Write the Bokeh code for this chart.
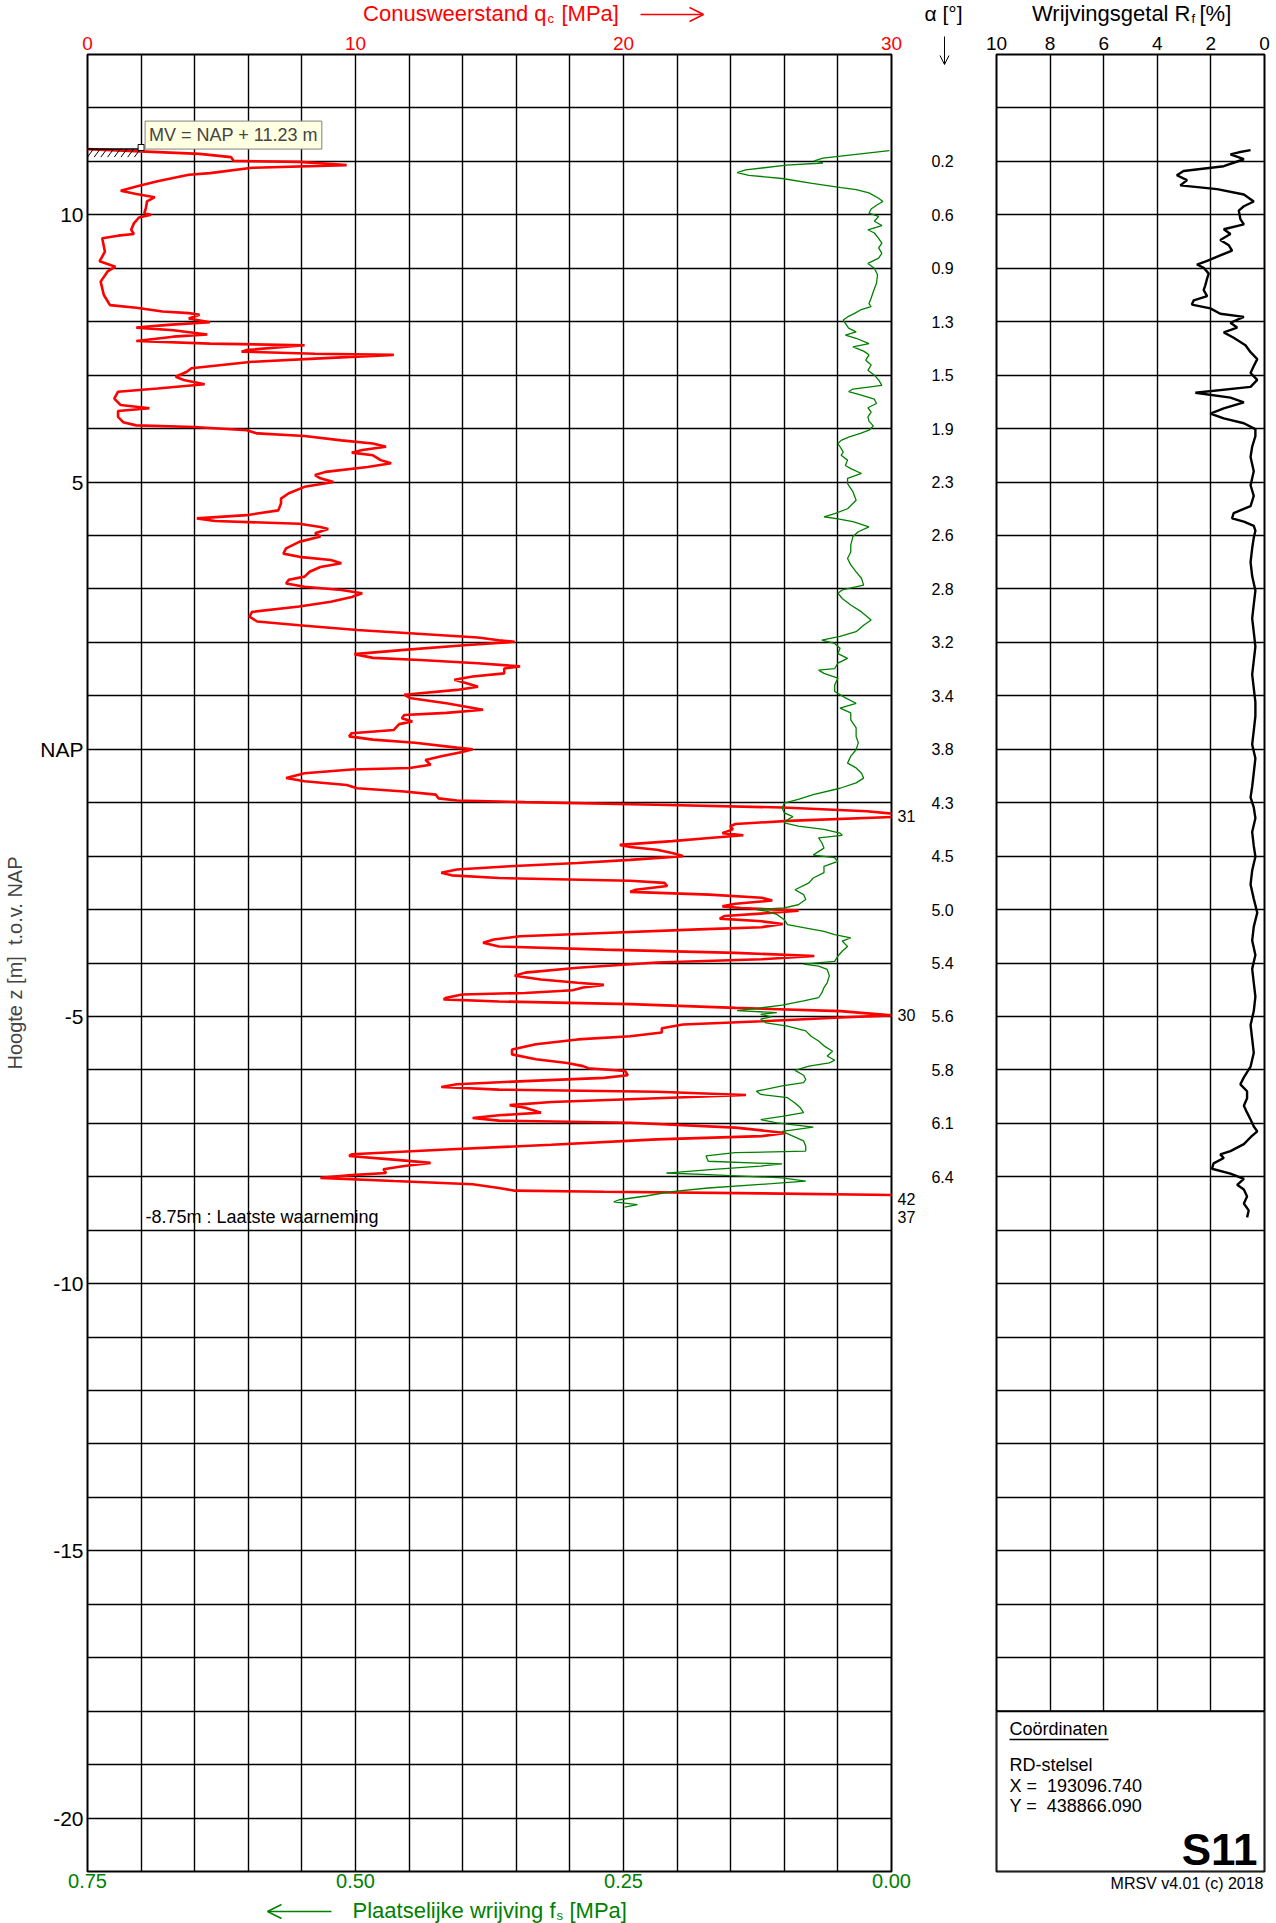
import numpy as np
from bokeh.core.properties import value
from bokeh.embed import file_html
from bokeh.layouts import column, row
from bokeh.models import (Arrow, FixedTicker, Label, LinearAxis, NumeralTickFormatter,
                          OpenHead, Range1d)
from bokeh.plotting import figure
from bokeh.resources import INLINE

# ---------------------------------------------------------------------------
# CPT S11 - sounding data (height in m relative to NAP)
# ---------------------------------------------------------------------------
surface_level = 11.23          # MV = NAP + 11.23 m
last_reading = -8.75           # deepest observation

# cone resistance qc [MPa]
qc_depth = [
    11.23, 11.14, 11.08, 11.01, 10.99, 10.93, 10.88, 10.78, 10.75, 10.63, 10.53, 10.45,
    10.39, 10.33, 10.25, 10.13, 10.03, 10.00, 9.95, 9.84, 9.72, 9.64, 9.61, 9.56, 9.31,
    9.13, 9.03, 8.94, 8.75, 8.50, 8.31, 8.26, 8.19, 8.16, 8.13, 8.06, 7.99, 7.94, 7.89,
    7.84, 7.76, 7.72, 7.64, 7.59, 7.56, 7.47, 7.44, 7.40, 7.38, 7.31, 7.25, 7.13, 7.06,
    6.97, 6.91, 6.83, 6.75, 6.69, 6.56, 6.44, 6.38, 6.33, 6.22, 6.12, 6.06, 6.03, 5.97,
    5.91, 5.86, 5.78, 5.72, 5.66, 5.60, 5.55, 5.50, 5.41, 5.35, 5.28, 5.19, 5.13, 5.07,
    5.00, 4.91, 4.79, 4.69, 4.60, 4.47, 4.38, 4.32, 4.27, 4.22, 4.16, 4.12, 4.04, 3.98,
    3.88, 3.76, 3.66, 3.60, 3.54, 3.48, 3.41, 3.32, 3.23, 3.17, 3.10, 3.04, 2.98, 2.92,
    2.85, 2.76, 2.67, 2.57, 2.48, 2.39, 2.32, 2.23, 2.17, 2.09, 2.04, 2.01, 1.95, 1.86,
    1.78, 1.71, 1.67, 1.61, 1.55, 1.51, 1.42, 1.36, 1.30, 1.23, 1.17, 1.11, 1.02, 0.96,
    0.86, 0.74, 0.68, 0.64, 0.58, 0.52, 0.47, 0.36, 0.30, 0.24, 0.18, 0.12, 0.03, 0.00,
    -0.05, -0.13, -0.20, -0.29, -0.35, -0.38, -0.45, -0.54, -0.60, -0.67, -0.73, -0.79,
    -0.85, -0.92, -0.96, -0.99, -1.04, -1.09, -1.16, -1.25, -1.34, -1.40, -1.44, -1.50,
    -1.57, -1.61, -1.66, -1.72, -1.79, -1.83, -1.88, -1.94, -2.00, -2.07, -2.13, -2.19,
    -2.25, -2.31, -2.36, -2.41, -2.46, -2.50, -2.56, -2.63, -2.67, -2.72, -2.78, -2.83,
    -2.89, -2.94, -2.97, -3.02, -3.06, -3.12, -3.17, -3.22, -3.27, -3.33, -3.37, -3.44,
    -3.50, -3.56, -3.62, -3.69, -3.75, -3.81, -3.87, -3.93, -3.99, -4.09, -4.18, -4.24,
    -4.31, -4.37, -4.41, -4.46, -4.51, -4.56, -4.59, -4.65, -4.68, -4.72, -4.77, -4.84,
    -4.90, -4.98, -5.02, -5.09, -5.15, -5.22, -5.30, -5.37, -5.43, -5.52, -5.62, -5.71,
    -5.80, -5.87, -5.93, -5.97, -6.02, -6.10, -6.15, -6.21, -6.27, -6.32, -6.37, -6.41,
    -6.47, -6.53, -6.60, -6.66, -6.71, -6.80, -6.85, -6.90, -6.95, -6.99, -7.08, -7.18,
    -7.24, -7.30, -7.40, -7.49, -7.58, -7.61, -7.68, -7.74, -7.80, -7.86, -7.93, -7.97,
    -8.02, -8.08, -8.14, -8.21, -8.26, -8.28, -8.31, -8.42, -8.75,
]
qc_value = [
    0.00, 4.18, 5.35, 5.45, 7.90, 9.67, 6.14, 4.57, 3.78, 2.61, 1.82, 1.24,
    1.82, 2.51, 2.22, 2.18, 2.12, 2.37, 1.92, 1.73, 1.63, 1.73, 1.14, 0.55, 0.65,
    0.45, 1.04, 0.75, 0.49, 0.61, 0.84, 1.82, 2.80, 3.78, 4.18, 3.78, 4.57, 3.00, 1.82,
    3.20, 4.47, 3.20, 1.82, 4.57, 8.10, 5.94, 5.75, 8.49, 11.43, 8.49, 6.14, 3.88, 3.69,
    3.29, 3.59, 4.37, 2.61, 1.14, 1.00, 1.24, 2.31, 1.14, 1.14, 1.33, 1.82, 3.98, 5.94,
    6.33, 8.10, 9.47, 10.65, 11.14, 10.25, 9.86, 10.65, 10.94, 11.33, 10.45, 8.88, 8.49, 8.69,
    9.18, 8.10, 7.51, 7.22, 7.22, 7.12, 5.94, 4.08, 4.76, 7.90, 8.69, 8.98, 8.49, 8.69,
    7.90, 7.41, 7.31, 7.90, 9.08, 9.47, 8.69, 8.29, 8.10, 7.51, 7.41, 8.10, 9.47, 10.25,
    9.86, 9.08, 7.90, 6.14, 6.04, 6.33, 7.90, 10.06, 12.02, 14.57, 15.35, 15.94, 14.18, 11.82,
    9.96, 10.65, 12.41, 14.57, 16.14, 15.55, 15.55, 14.37, 13.69, 14.18, 14.57, 13.78, 11.82, 12.02,
    13.39, 14.76, 13.39, 11.82, 11.73, 12.12, 11.63, 11.43, 9.86, 9.76, 10.65, 12.22, 13.78, 14.37,
    13.98, 13.20, 12.61, 12.80, 12.02, 9.86, 8.10, 7.41, 8.10, 9.67, 10.06, 11.82,
    13.00, 13.10, 13.78, 16.33, 21.24, 25.94, 29.08, 31.00, 26.14, 24.18, 23.98, 24.08,
    23.69, 24.47, 23.20, 21.82, 19.86, 20.25, 21.24, 21.82, 22.22, 20.25, 18.29, 15.75,
    13.78, 13.20, 13.59, 15.35, 20.25, 21.53, 21.63, 20.45, 20.25, 23.20, 25.16, 25.55,
    24.18, 23.69, 24.37, 26.53, 25.55, 23.78, 23.59, 25.16, 25.94, 25.16, 22.80, 19.27,
    16.14, 15.16, 14.76, 15.35, 19.27, 24.18, 27.12, 25.16, 21.24, 18.29, 16.33, 15.94,
    16.92, 18.29, 19.27, 18.49, 18.10, 16.33, 13.98, 13.39, 13.29, 15.35, 20.25, 24.18,
    28.10, 30.00, 28.10, 25.16, 22.22, 21.43, 21.43, 20.25, 18.29, 16.73, 15.84, 15.84,
    16.73, 17.90, 18.49, 18.69, 20.06, 20.16, 19.27, 16.33, 13.78, 13.20, 15.35, 21.24,
    24.57, 21.24, 17.31, 15.75, 16.33, 16.92, 15.35, 14.37, 15.35, 20.25, 24.18, 26.04,
    25.16, 21.24, 17.31, 13.39, 9.86, 9.76, 11.43, 12.80, 11.82, 11.04, 11.14, 9.86,
    8.69, 11.43, 14.37, 15.35, 15.94, 19.27, 25.16, 42.00, 37.00,
]

# local friction fs [MPa]
fs_depth = [
    11.20, 11.13, 11.06, 11.01, 10.97, 10.93, 10.84, 10.79, 10.74, 10.68, 10.59, 10.51,
    10.47, 10.41, 10.31, 10.25, 10.18, 10.11, 10.03, 9.97, 9.88, 9.80, 9.72, 9.66, 9.56,
    9.47, 9.38, 9.28, 9.19, 9.09, 9.00, 8.88, 8.72, 8.56, 8.44, 8.34, 8.28, 8.22, 8.16,
    8.09, 8.03, 7.97, 7.88, 7.81, 7.75, 7.69, 7.59, 7.53, 7.45, 7.38, 7.28, 7.19, 7.09,
    7.00, 6.91, 6.81, 6.74, 6.69, 6.63, 6.55, 6.47, 6.39, 6.31, 6.22, 6.14, 6.05, 5.97,
    5.91, 5.84, 5.78, 5.72, 5.66, 5.56, 5.50, 5.41, 5.31, 5.25, 5.16, 5.07, 4.97, 4.82,
    4.66, 4.50, 4.41, 4.35, 4.31, 4.26, 4.16, 4.07, 3.98, 3.82, 3.69, 3.57, 3.45, 3.32,
    3.20, 3.07, 2.98, 2.92, 2.82, 2.70, 2.57, 2.42, 2.32, 2.20, 2.11, 2.04, 1.98, 1.89,
    1.79, 1.70, 1.61, 1.51, 1.48, 1.42, 1.33, 1.20, 1.08, 0.96, 0.86, 0.77, 0.68, 0.55,
    0.40, 0.24, 0.12, -0.01, -0.13, -0.26, -0.35, -0.45, -0.54, -0.63, -0.73, -0.85,
    -0.94, -1.01, -1.10, -1.19, -1.26, -1.32, -1.38, -1.44, -1.50, -1.57, -1.61, -1.66,
    -1.75, -1.85, -1.94, -1.98, -2.03, -2.10, -2.19, -2.31, -2.41, -2.50, -2.63, -2.72,
    -2.81, -2.91, -2.97, -3.00, -3.03, -3.09, -3.19, -3.28, -3.34, -3.41, -3.47, -3.53,
    -3.59, -3.69, -3.78, -3.87, -3.97, -4.02, -4.06, -4.12, -4.24, -4.37, -4.46, -4.56,
    -4.65, -4.71, -4.79, -4.84, -4.89, -4.93, -4.96, -5.01, -5.05, -5.12, -5.18, -5.27,
    -5.37, -5.46, -5.55, -5.65, -5.74, -5.82, -5.87, -5.93, -6.01, -6.10, -6.18, -6.24,
    -6.30, -6.40, -6.46, -6.52, -6.62, -6.71, -6.80, -6.87, -6.93, -6.99, -7.07, -7.15,
    -7.24, -7.33, -7.43, -7.52, -7.55, -7.61, -7.71, -7.76, -7.80, -7.86, -7.93, -7.96,
    -8.02, -8.08, -8.13, -8.21, -8.28, -8.36, -8.43, -8.47, -8.52, -8.57,
]
fs_value = [
    0.002, 0.033, 0.064, 0.072, 0.064, 0.098, 0.136, 0.144, 0.133, 0.102, 0.074, 0.047,
    0.033, 0.021, 0.012, 0.008, 0.014, 0.019, 0.021, 0.012, 0.016, 0.009, 0.022, 0.016, 0.012,
    0.009, 0.012, 0.009, 0.012, 0.022, 0.016, 0.013, 0.014, 0.017, 0.019, 0.021, 0.019, 0.029, 0.034,
    0.041, 0.045, 0.043, 0.040, 0.033, 0.043, 0.033, 0.021, 0.036, 0.026, 0.021, 0.024, 0.019, 0.022,
    0.016, 0.012, 0.009, 0.036, 0.040, 0.029, 0.016, 0.014, 0.022, 0.019, 0.022, 0.021, 0.017, 0.021,
    0.029, 0.040, 0.047, 0.050, 0.048, 0.045, 0.047, 0.041, 0.043, 0.038, 0.028, 0.041, 0.041, 0.036,
    0.033, 0.041, 0.053, 0.063, 0.050, 0.036, 0.021, 0.031, 0.036, 0.038, 0.038, 0.041, 0.038, 0.033,
    0.028, 0.026, 0.046, 0.050, 0.046, 0.038, 0.028, 0.019, 0.026, 0.033, 0.048, 0.065, 0.053, 0.048,
    0.050, 0.041, 0.050, 0.053, 0.068, 0.063, 0.050, 0.053, 0.053, 0.043, 0.033, 0.048, 0.038, 0.038,
    0.033, 0.033, 0.031, 0.033, 0.038, 0.041, 0.033, 0.028, 0.026, 0.033, 0.048, 0.073,
    0.087, 0.100, 0.102, 0.100, 0.092, 0.097, 0.100, 0.087, 0.063, 0.048, 0.046, 0.068,
    0.065, 0.063, 0.070, 0.073, 0.053, 0.050, 0.063, 0.063, 0.073, 0.077, 0.090, 0.082,
    0.080, 0.087, 0.100, 0.126, 0.117, 0.107, 0.100, 0.097, 0.082, 0.063, 0.053, 0.038,
    0.046, 0.041, 0.046, 0.050, 0.053, 0.082, 0.068, 0.060, 0.058, 0.060, 0.063, 0.065,
    0.068, 0.082, 0.102, 0.122, 0.144, 0.107, 0.122, 0.112, 0.122, 0.117, 0.097, 0.080,
    0.075, 0.068, 0.063, 0.055, 0.060, 0.053, 0.058, 0.077, 0.090, 0.082, 0.080, 0.082,
    0.102, 0.126, 0.122, 0.097, 0.090, 0.085, 0.082, 0.102, 0.122, 0.107, 0.073, 0.102,
    0.092, 0.082, 0.080, 0.080, 0.146, 0.173, 0.171, 0.102, 0.122, 0.166, 0.210, 0.171,
    0.102, 0.080, 0.112, 0.171, 0.205, 0.229, 0.254, 0.259, 0.237, 0.249,
]

# friction ratio Rf [%]
rf_depth = [
    11.21, 11.17, 11.13, 11.04, 10.91, 10.82, 10.74, 10.65, 10.55, 10.48, 10.38, 10.25,
    10.16, 10.08, 9.92, 9.82, 9.73, 9.64, 9.53, 9.43, 9.33, 9.24, 9.14, 9.07, 9.01,
    8.90, 8.81, 8.68, 8.59, 8.48, 8.40, 8.32, 8.25, 8.15, 8.09, 7.98, 7.89, 7.80, 7.70,
    7.56, 7.43, 7.30, 7.17, 7.04, 6.91, 6.78, 6.67, 6.58, 6.49, 6.38, 6.28, 6.19, 6.10,
    5.99, 5.86, 5.66, 5.47, 5.20, 4.94, 4.74, 4.55, 4.42, 4.32, 4.26, 4.18, 4.09, 3.96,
    3.76, 3.50, 3.24, 2.97, 2.71, 2.45, 2.19, 1.92, 1.66, 1.40, 1.14, 0.88, 0.62, 0.35,
    0.09, -0.17, -0.44, -0.70, -0.90, -1.09, -1.29, -1.55, -1.81, -2.01, -2.27, -2.53,
    -2.80, -3.06, -3.32, -3.58, -3.85, -4.11, -4.37, -4.63, -4.90, -5.16, -5.42, -5.68,
    -5.94, -6.14, -6.27, -6.40, -6.53, -6.67, -6.80, -6.93, -7.06, -7.15, -7.26, -7.39,
    -7.52, -7.58, -7.65, -7.75, -7.85, -7.94, -8.04, -8.15, -8.24, -8.37, -8.50, -8.63,
    -8.76,
]
rf_value = [
    0.52, 0.96, 1.27, 0.77, 1.52, 3.02, 3.27, 2.89, 3.14, 1.77, 0.77, 0.40,
    0.77, 0.96, 0.90, 0.77, 1.52, 1.27, 1.65, 1.33, 1.21, 1.65, 2.14, 2.52, 2.27,
    2.08, 2.14, 2.21, 2.27, 2.14, 2.64, 2.71, 2.02, 1.65, 0.77, 1.27, 1.02, 1.52, 1.15,
    0.71, 0.52, 0.27, 0.40, 0.52, 0.27, 0.52, 2.58, 1.27, 0.77, 1.52, 2.02, 1.52, 0.77,
    0.34, 0.34, 0.46, 0.52, 0.40, 0.52, 0.40, 0.52, 1.15, 1.21, 0.77, 0.40, 0.34, 0.40,
    0.46, 0.52, 0.46, 0.34, 0.40, 0.46, 0.40, 0.34, 0.40, 0.46, 0.40, 0.34, 0.34, 0.40,
    0.46, 0.34, 0.40, 0.46, 0.52, 0.40, 0.34, 0.46, 0.40, 0.34, 0.46, 0.52,
    0.40, 0.27, 0.40, 0.46, 0.34, 0.46, 0.40, 0.34, 0.40, 0.52, 0.46, 0.40,
    0.52, 0.77, 0.90, 0.65, 0.65, 0.77, 0.65, 0.52, 0.40, 0.27, 0.52, 0.77,
    1.27, 1.65, 1.52, 1.90, 1.96, 1.27, 0.77, 1.02, 0.77, 0.65, 0.77, 0.59,
    0.65,
]

# inclination of the cone [deg], one reading per metre
alpha_depth = [11, 10, 9, 8, 7, 6, 5, 4, 3, 2, 1, 0, -1, -2, -3, -4, -5, -6, -7, -8]
alpha_value = ["0.2", "0.6", "0.9", "1.3", "1.5", "1.9", "2.3", "2.6", "2.8", "3.2",
               "3.4", "3.8", "4.3", "4.5", "5.0", "5.4", "5.6", "5.8", "6.1", "6.4"]

# axis ticks
height_ticks = [10, 5, 0, -5, -10, -15, -20]
qc_ticks = [0, 10, 20, 30]
fs_ticks = [0.75, 0.50, 0.25, 0.00]
rf_ticks = [0, 2, 4, 6, 8, 10]

# location
rd_x = "193096.740"
rd_y = "438866.090"
sounding_id = "S11"

# ---------------------------------------------------------------------------
# page geometry (pixels)
# ---------------------------------------------------------------------------
FONT = "Liberation Sans"
PAGE_W, PAGE_H = 1276, 1923
HEAD_H = 26                      # title strip
MAIN_LEFT, MAIN_W, MAIN_RIGHT = 87, 804, 30
GAP_LEFT, GAP_RIGHT = 921, 983   # inclination column
RF_LEFT, RF_W = 996, 268
FRAME_TOP, FRAME_H = 54, 1817
FOOT_TOP = 1897                  # strip with the friction title
RF_FOOT = 50
Z_TOP, Z_BOT = 13.0, -21.0
QC_MAX, FS_MAX, RF_MAX = 30.0, 0.75, 10.0
INFO_TOP = -18.0

RED = "#ff0000"
GREEN = "#008000"
MAIN_X1 = MAIN_LEFT + MAIN_W
RF_X1 = RF_LEFT + RF_W


def rf_at(px):
    return RF_MAX - (px - RF_LEFT) / RF_W * RF_MAX


def qc_at(px):
    return (px - MAIN_LEFT) / MAIN_W * QC_MAX


def z_at(py):
    return Z_TOP - (py - FRAME_TOP) / FRAME_H * (Z_TOP - Z_BOT)


def style_axis(ax, color, size="20px", standoff=0):
    ax.major_label_text_font = FONT
    ax.major_label_text_font_size = size
    ax.major_label_text_color = color
    ax.major_tick_line_color = None
    ax.minor_tick_line_color = None
    ax.major_tick_in = 0
    ax.major_tick_out = 0
    ax.axis_line_color = None
    ax.major_label_standoff = standoff


def bare(width, height, x_range, y_range, left=0, right=0):
    """A figure without axes, used for free text around the panels."""
    f = figure(width=width, height=height, title=None, x_range=x_range, y_range=y_range,
               x_axis_location=None, y_axis_location=None,
               output_backend="svg", toolbar_location=None,
               min_border_left=left, min_border_right=right,
               min_border_top=0, min_border_bottom=0)
    f.outline_line_color = None
    f.xgrid.visible = False
    f.ygrid.visible = False
    return f


def put(fig, x, y, txt, size="20px", color="black", align="left", style="normal"):
    fig.text(x=[x], y=[y], text=[txt], text_font=value(FONT), text_font_size=size,
             text_color=color, text_align=align, text_baseline="middle",
             text_font_style=style)


y_range = Range1d(Z_BOT, Z_TOP)

# ---------------------------------------------------------------------------
# main panel: qc (top axis) and fs (bottom axis)
# ---------------------------------------------------------------------------
p1 = figure(width=MAIN_X1 + MAIN_RIGHT, height=FOOT_TOP - HEAD_H, title=None,
            x_range=Range1d(0, QC_MAX), y_range=y_range,
            x_axis_location="above", output_backend="svg", toolbar_location=None,
            min_border_left=MAIN_LEFT, min_border_right=MAIN_RIGHT,
            min_border_top=FRAME_TOP - HEAD_H,
            min_border_bottom=FOOT_TOP - FRAME_TOP - FRAME_H)
p1.extra_x_ranges = {"fs": Range1d(FS_MAX, 0.0)}
p1.outline_line_color = "black"
p1.outline_line_width = 2

top_ax = p1.above[0]
top_ax.ticker = FixedTicker(ticks=qc_ticks)
style_axis(top_ax, RED, size="19px", standoff=5)

left_ax = p1.left[0]
left_ax.ticker = FixedTicker(ticks=height_ticks)
left_ax.major_label_overrides = {t: ("NAP" if t == 0 else str(t)) for t in height_ticks}
style_axis(left_ax, "black", size="21px", standoff=4)
left_ax.axis_label = "Hoogte z [m]\u00a0 t.o.v. NAP"
left_ax.axis_label_text_font = FONT
left_ax.axis_label_text_font_size = "20px"
left_ax.axis_label_text_font_style = "normal"
left_ax.axis_label_standoff = 11

fs_ax = LinearAxis(x_range_name="fs", ticker=FixedTicker(ticks=fs_ticks),
                   formatter=NumeralTickFormatter(format="0.00"))
style_axis(fs_ax, GREEN, standoff=2)
p1.add_layout(fs_ax, "below")

# qc values beyond the scale, written next to the frame
over = [(z, v) for z, v in zip(qc_depth, qc_value) if v >= QC_MAX]
over_ax = LinearAxis(ticker=FixedTicker(ticks=[o[0] for o in over]),
                     major_label_overrides={o[0]: f"{o[1]:.0f}" for o in over})
style_axis(over_ax, "black", size="16px", standoff=6)
p1.add_layout(over_ax, "right")

p1.xgrid.ticker = FixedTicker(ticks=list(range(2, int(QC_MAX), 2)))
p1.ygrid.ticker = FixedTicker(ticks=list(range(int(Z_BOT) + 1, int(Z_TOP))))
for g in (p1.xgrid, p1.ygrid):
    g.grid_line_color = "black"
    g.grid_line_width = 1.4
    g.grid_line_alpha = 1.0

p1.line(qc_value, qc_depth, line_color=RED, line_width=2.6)
p1.line(fs_value, fs_depth, x_range_name="fs", line_color=GREEN, line_width=1.3)

# ground level symbol
mv_mark = 2.0
p1.line([0, mv_mark], [surface_level, surface_level], line_color="black", line_width=1.5)
hatch_x = np.arange(0.0, mv_mark, 0.25)
p1.segment(x0=hatch_x, y0=surface_level - 0.15, x1=hatch_x + 0.22, y1=surface_level,
           line_color="black", line_width=1)
p1.scatter([mv_mark], [surface_level + 0.03], marker="square", size=6,
           fill_color="white", line_color="black", line_width=1)
p1.add_layout(Label(x=mv_mark, y=surface_level, x_offset=4, y_offset=0,
                    text=f"MV = NAP + {surface_level:.2f} m",
                    text_font=FONT, text_font_size="18px", text_baseline="bottom",
                    background_fill_color="#ffffe1", border_line_color="#808080",
                    border_line_width=1, padding=4))

put(p1, qc_at(145), last_reading, f"{last_reading:.2f}m : Laatste waarneming",
    size="18px")

# ---------------------------------------------------------------------------
# inclination column between the panels
# ---------------------------------------------------------------------------
gap = bare(GAP_RIGHT - GAP_LEFT, PAGE_H - HEAD_H,
           Range1d(GAP_LEFT, GAP_RIGHT), Range1d(z_at(PAGE_H), z_at(HEAD_H)))
gap.text(x=[942] * len(alpha_depth), y=alpha_depth, text=alpha_value,
         text_font=value(FONT), text_font_size="16px", text_align="center",
         text_baseline="middle")
gap.add_layout(Arrow(x_start=944, y_start=z_at(36), x_end=944, y_end=z_at(64),
                     line_color="black", line_width=1,
                     end=OpenHead(size=9, line_color="black", line_width=1)))

# ---------------------------------------------------------------------------
# right panel: friction ratio Rf
# ---------------------------------------------------------------------------
p2 = figure(width=PAGE_W - GAP_RIGHT, height=PAGE_H - HEAD_H - RF_FOOT, title=None,
            x_range=Range1d(RF_MAX, 0), y_range=y_range,
            x_axis_location="above", y_axis_location=None,
            output_backend="svg", toolbar_location=None,
            min_border_left=RF_LEFT - GAP_RIGHT, min_border_right=PAGE_W - RF_X1,
            min_border_top=FRAME_TOP - HEAD_H,
            min_border_bottom=PAGE_H - RF_FOOT - FRAME_TOP - FRAME_H)
p2.outline_line_color = "black"
p2.outline_line_width = 2

rf_ax = p2.above[0]
rf_ax.ticker = FixedTicker(ticks=rf_ticks)
style_axis(rf_ax, "black", size="19px", standoff=5)

p2.xgrid.ticker = FixedTicker(ticks=rf_ticks[1:-1])
p2.ygrid.ticker = FixedTicker(ticks=list(range(int(Z_BOT) + 1, int(Z_TOP))))
for g in (p2.xgrid, p2.ygrid):
    g.grid_line_color = "black"
    g.grid_line_width = 1.4
    g.grid_line_alpha = 1.0

p2.line(rf_value, rf_depth, line_color="black", line_width=2.4)

# information block
p2.quad(left=RF_MAX, right=0, top=INFO_TOP, bottom=Z_BOT,
        fill_color="white", line_color="black", line_width=2)
put(p2, rf_at(1009), z_at(1728), "Co\u00f6rdinaten", size="18px")
p2.segment(x0=rf_at(1009), y0=z_at(1739), x1=rf_at(1108), y1=z_at(1739),
           line_color="black", line_width=1.5)
put(p2, rf_at(1009), z_at(1764), "RD-stelsel", size="18px")
put(p2, rf_at(1009), z_at(1785), f"X =\u00a0 {rd_x}", size="18px")
put(p2, rf_at(1009), z_at(1805), f"Y =\u00a0 {rd_y}", size="18px")
put(p2, rf_at(1257), z_at(1849), sounding_id, size="44px", align="right", style="bold")

# strip under the Rf panel, frame aligned with the Rf frame
foot_r = bare(PAGE_W - GAP_RIGHT, RF_FOOT, Range1d(RF_LEFT, RF_X1),
              Range1d(PAGE_H, PAGE_H - RF_FOOT),
              left=RF_LEFT - GAP_RIGHT, right=PAGE_W - RF_X1)
put(foot_r, 1263, 1883, "MRSV v4.01 (c) 2018", size="16px", align="right")

# ---------------------------------------------------------------------------
# title strips
# ---------------------------------------------------------------------------
head = bare(PAGE_W, HEAD_H, Range1d(0, PAGE_W), Range1d(HEAD_H, 0))
put(head, 546, 13.3, "Conusweerstand q", size="22px", color=RED, align="right")
put(head, 547, 18, "c", size="13px", color=RED)
put(head, 561, 13.3, "[MPa]", size="22px", color=RED)
head.add_layout(Arrow(x_start=640, y_start=14, x_end=703, y_end=14,
                      line_color=RED, line_width=1.5,
                      end=OpenHead(size=14, line_color=RED, line_width=1.5)))
put(head, 943, 13.3, "\u03b1 [\u00b0]", size="21px", align="center")
put(head, 1190, 13.3, "Wrijvingsgetal R", size="22px", align="right")
put(head, 1191, 18, "f", size="13px")
put(head, 1199, 13.3, "[%]", size="22px")

# strip under the main panel, frame aligned with the main frame
foot_l = bare(MAIN_X1 + MAIN_RIGHT, PAGE_H - FOOT_TOP, Range1d(MAIN_LEFT, MAIN_X1),
              Range1d(PAGE_H, FOOT_TOP), left=MAIN_LEFT, right=MAIN_RIGHT)
put(foot_l, 555, 1910, "Plaatselijke wrijving f", size="22px", color=GREEN, align="right")
put(foot_l, 556, 1915, "s", size="13px", color=GREEN)
put(foot_l, 569, 1910, "[MPa]", size="22px", color=GREEN)
foot_l.add_layout(Arrow(x_start=331, y_start=1911, x_end=267, y_end=1911,
                        line_color=GREEN, line_width=1.5,
                        end=OpenHead(size=14, line_color=GREEN, line_width=1.5)))

page = column(head, row(column(p1, foot_l), gap, column(p2, foot_r)))
open("out.html", "w").write(file_html(page, INLINE, title="Sondering S11"))
